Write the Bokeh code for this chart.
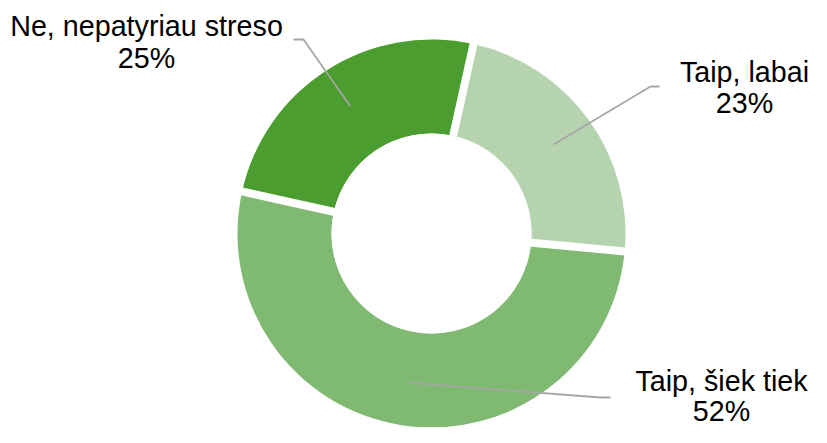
import numpy as np
from bokeh.plotting import figure
from bokeh.models import ColumnDataSource
from bokeh.core.properties import value
from bokeh.embed import file_html
from bokeh.resources import INLINE

# ---- data ----
categories = ["Taip, labai", "Taip, šiek tiek", "Ne, nepatyriau streso"]
values = [23, 52, 25]
pct_labels = ["23%", "52%", "25%"]
colors = ["#B5D3AF", "#80B972", "#4A9D2E"]

# ---- layout / style (picture pixels; converted to data units below) ----
W, H = 811, 427
def dx(X): return X
def dy(Y): return H - Y

CX, CY = 431, 233          # donut centre (picture px)
R_OUT, R_IN = 194, 100
START_CW_DEG = 12.5        # first slice starts this many degrees clockwise from 12 o'clock
GAP = 8
LEADER_R = 151
FONT_SIZE = "28.7px"
# label anchor (centre x, middle of line 1, middle of line 2) and leader elbow/end
label_pos = [(744, 71, 102), (721, 380, 410), (146, 25, 57)]
leader_elbow = [((650, 86), (659, 86)), ((600, 397), (610, 397)), ((303, 39), (293, 39))]

p = figure(width=W, height=H, x_range=(0, W), y_range=(0, H),
           output_backend="svg", toolbar_location=None, min_border=0)
p.axis.visible = False
p.grid.visible = False
p.outline_line_color = None
p.background_fill_color = "white"

vals = np.array(values, dtype=float)
frac = vals / vals.sum()
cum = np.concatenate([[0], np.cumsum(frac)])
theta1 = np.radians(START_CW_DEG) + 2 * np.pi * cum[:-1]
theta2 = np.radians(START_CW_DEG) + 2 * np.pi * cum[1:]

src = ColumnDataSource(dict(
    start=np.pi / 2 - theta2, end=np.pi / 2 - theta1, color=colors, cat=categories))
p.annular_wedge(x=dx(CX), y=dy(CY), inner_radius=R_IN, outer_radius=R_OUT,
                start_angle="start", end_angle="end", color="color",
                line_color=None, source=src)

# white separators at slice boundaries
bx0, by0, bx1, by1 = [], [], [], []
for t in theta1:
    bx0.append(dx(CX)); by0.append(dy(CY))
    bx1.append(dx(CX) + (R_OUT + 6) * np.sin(t)); by1.append(dy(CY) + (R_OUT + 6) * np.cos(t))
p.segment(x0=bx0, y0=by0, x1=bx1, y1=by1, line_color="white", line_width=GAP)
p.circle(x=dx(CX), y=dy(CY), radius=R_IN, fill_color="white", line_color=None)

# leader lines
mid = (theta1 + theta2) / 2
xs, ys = [], []
for i, t in enumerate(mid):
    sx = dx(CX) + LEADER_R * np.sin(t)
    sy = dy(CY) + LEADER_R * np.cos(t)
    (ex, ey), (fx, fy) = leader_elbow[i]
    xs.append([sx, dx(ex), dx(fx)])
    ys.append([sy, dy(ey), dy(fy)])
p.multi_line(xs=xs, ys=ys, line_color="#A6A6A6", line_width=1.8)

# labels
lx = [dx(a) for a, b, c in label_pos]
ly1 = [dy(b) for a, b, c in label_pos]
ly2 = [dy(c) for a, b, c in label_pos]
font = value("Liberation Sans")
p.text(x=lx, y=ly1, text=categories, text_font=font, text_font_size=FONT_SIZE,
       text_align="center", text_baseline="middle", text_color="#000000")
p.text(x=lx, y=ly2, text=pct_labels, text_font=font, text_font_size=FONT_SIZE,
       text_align="center", text_baseline="middle", text_color="#000000")

open("out.html", "w").write(file_html(p, INLINE))
